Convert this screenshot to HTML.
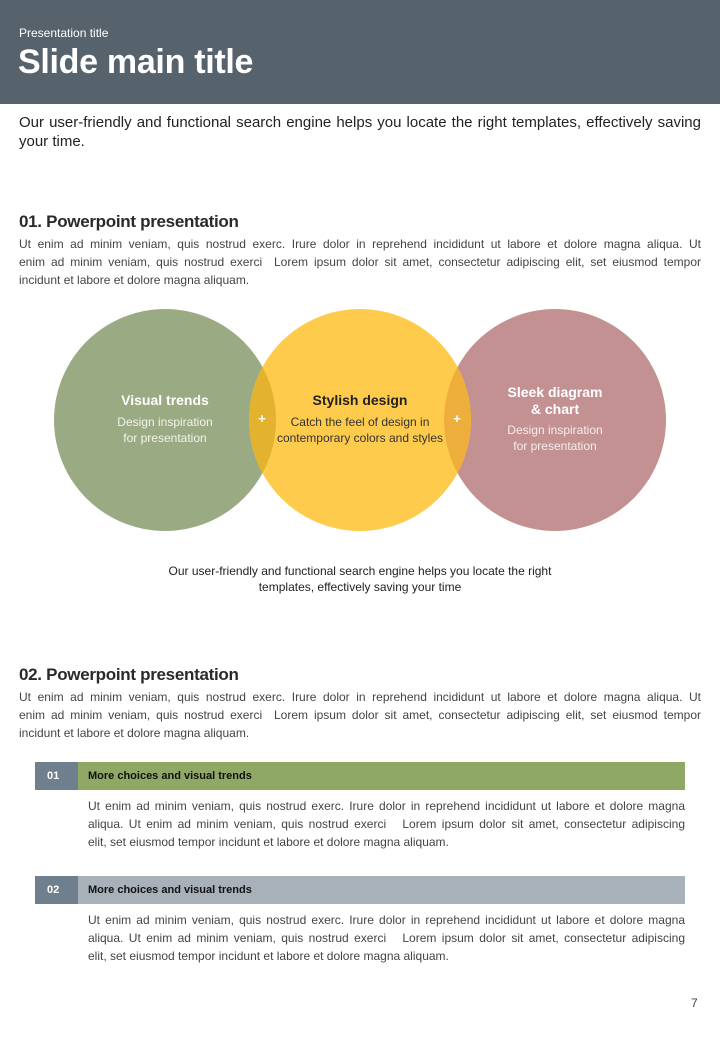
<!DOCTYPE html>
<html><head><meta charset="utf-8"><style>
*{margin:0;padding:0;box-sizing:border-box}
body{width:720px;height:1040px;background:#fff;font-family:"Liberation Sans",sans-serif;color:#222;position:relative;overflow:hidden}
.a{position:absolute;white-space:nowrap}
.hdr{position:absolute;left:0;top:0;width:720px;height:104px;background:#56626c}
.j{position:absolute;text-align:justify;text-align-last:justify;white-space:nowrap;font-size:12px;color:#444}
.l{position:absolute;font-size:12px;color:#444;white-space:nowrap}
h2{position:absolute;font-size:17px;font-weight:bold;color:#2a2a2a;white-space:nowrap;letter-spacing:-0.3px}
.bar{position:absolute;left:35px;width:650px;height:28px}
.num{position:absolute;left:0;top:0;width:43px;height:28px;background:#6f7f8e;color:#fff;font-weight:bold;font-size:11px;line-height:28px;padding-left:12px}
.bt{position:absolute;left:53px;top:0;font-weight:bold;font-size:11px;line-height:28px;color:#111}
</style></head><body>
<div class="hdr"></div>
<div class="a" style="left:19px;top:26px;font-size:12px;color:#fff">Presentation title</div>
<div class="a" style="left:18px;top:43px;font-size:34px;font-weight:bold;color:#fff;letter-spacing:-0.3px">Slide main title</div>
<div class="j" style="left:19px;top:114px;width:682px;font-size:15px;color:#222">Our user-friendly and functional search engine helps you locate the right templates, effectively saving</div>
<div class="l" style="left:19px;top:133px;font-size:15px;color:#222">your time.</div>

<h2 style="left:19px;top:212px">01. Powerpoint presentation</h2>
<div class="j" style="left:19px;top:237px;width:682px">Ut enim ad minim veniam, quis nostrud exerc. Irure dolor in reprehend incididunt ut labore et dolore magna aliqua. Ut</div>
<div class="j" style="left:19px;top:255px;width:682px">enim ad minim veniam, quis nostrud exerci&nbsp; Lorem ipsum dolor sit amet, consectetur adipiscing elit, set eiusmod tempor</div>
<div class="l" style="left:19px;top:273px">incidunt et labore et dolore magna aliquam.</div>

<svg class="a" style="left:0;top:300px" width="720" height="240">
<defs>
<clipPath id="cy"><circle cx="360" cy="120" r="111"/></clipPath>
</defs>
<circle cx="165" cy="120" r="111" fill="#9aab83"/>
<circle cx="555" cy="120" r="111" fill="#c39191"/>
<circle cx="360" cy="120" r="111" fill="#fecb4c"/>
<circle cx="165" cy="120" r="111" fill="#e3b32f" clip-path="url(#cy)"/>
<circle cx="555" cy="120" r="111" fill="#eeae3c" clip-path="url(#cy)"/>
<g font-family="Liberation Sans, sans-serif" text-anchor="middle">
<text x="165" y="105" font-size="14" font-weight="bold" fill="#fff">Visual trends</text>
<text x="165" y="126" font-size="12" fill="#f3f3ea">Design inspiration</text>
<text x="165" y="142" font-size="12" fill="#f3f3ea">for presentation</text>
<text x="360" y="105" font-size="14" font-weight="bold" fill="#222">Stylish design</text>
<text x="360" y="126" font-size="12" fill="#333">Catch the feel of design in</text>
<text x="360" y="142" font-size="12" fill="#333">contemporary colors and styles</text>
<text x="555" y="97" font-size="14" font-weight="bold" fill="#fff">Sleek diagram</text>
<text x="555" y="114" font-size="14" font-weight="bold" fill="#fff">&amp; chart</text>
<text x="555" y="134" font-size="12" fill="#f6ecec">Design inspiration</text>
<text x="555" y="150" font-size="12" fill="#f6ecec">for presentation</text>
<text x="262" y="123" font-size="13" font-weight="bold" fill="#fff">+</text>
<text x="457" y="123" font-size="13" font-weight="bold" fill="#fff">+</text>
</g>
</svg>
<div class="a" style="left:0;width:720px;top:564px;text-align:center;font-size:12px;color:#222">Our user-friendly and functional search engine helps you locate the right</div>
<div class="a" style="left:0;width:720px;top:580px;text-align:center;font-size:12px;color:#222">templates, effectively saving your time</div>

<h2 style="left:19px;top:665px">02. Powerpoint presentation</h2>
<div class="j" style="left:19px;top:690px;width:682px">Ut enim ad minim veniam, quis nostrud exerc. Irure dolor in reprehend incididunt ut labore et dolore magna aliqua. Ut</div>
<div class="j" style="left:19px;top:708px;width:682px">enim ad minim veniam, quis nostrud exerci&nbsp; Lorem ipsum dolor sit amet, consectetur adipiscing elit, set eiusmod tempor</div>
<div class="l" style="left:19px;top:726px">incidunt et labore et dolore magna aliquam.</div>

<div class="bar" style="top:762px;background:#8fa865"><div class="num">01</div><div class="bt">More choices and visual trends</div></div>
<div class="j" style="left:88px;top:799px;width:597px">Ut enim ad minim veniam, quis nostrud exerc. Irure dolor in reprehend incididunt ut labore et dolore magna</div>
<div class="j" style="left:88px;top:817px;width:597px">aliqua. Ut enim ad minim veniam, quis nostrud exerci&nbsp;&nbsp; Lorem ipsum dolor sit amet, consectetur adipiscing</div>
<div class="l" style="left:88px;top:835px">elit, set eiusmod tempor incidunt et labore et dolore magna aliquam.</div>

<div class="bar" style="top:876px;background:#a8b0ba"><div class="num">02</div><div class="bt">More choices and visual trends</div></div>
<div class="j" style="left:88px;top:913px;width:597px">Ut enim ad minim veniam, quis nostrud exerc. Irure dolor in reprehend incididunt ut labore et dolore magna</div>
<div class="j" style="left:88px;top:931px;width:597px">aliqua. Ut enim ad minim veniam, quis nostrud exerci&nbsp;&nbsp; Lorem ipsum dolor sit amet, consectetur adipiscing</div>
<div class="l" style="left:88px;top:949px">elit, set eiusmod tempor incidunt et labore et dolore magna aliquam.</div>

<div class="a" style="left:691px;top:996px;font-size:12px;color:#444">7</div>
</body></html>
